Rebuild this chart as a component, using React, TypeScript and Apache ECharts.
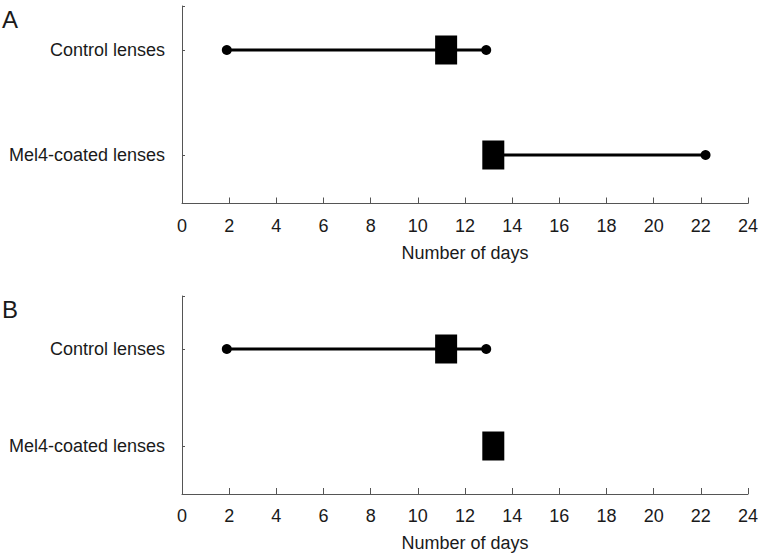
import React, { useEffect, useRef } from "react";
import * as echarts from "echarts";

// Row labels (y = 1 for Mel4, y = 2 for Control)
const categories = ["Mel4-coated lenses", "Control lenses"];
const rowValues = [1, 2];

// Panel A: range (min, max) and median in days
const panelAMin = [13.0, 1.9];
const panelAMax = [22.2, 12.9];
const panelAMedian = [13.2, 11.2];

// Panel B
const panelBMin = [13.2, 1.9];
const panelBMax = [13.2, 12.9];
const panelBMedian = [13.2, 11.2];

const xTicks = [0, 24, 2]; // min, max, interval
const panelLabels = ["A", "B"];
const xAxisTitle = "Number of days";

const FONT = "'Liberation Sans', Arial, sans-serif";
const TEXT = "#1a1a1a";
const AXIS = "#555";

export default function App() {
  const ref = useRef<HTMLDivElement>(null);
  useEffect(() => {
    if (!ref.current) return;
    const chart = echarts.init(ref.current, undefined, { renderer: "svg" });

    const panels = [
      { min: panelAMin, max: panelAMax, med: panelAMedian, top: 6, height: 197.5, yMin: 0.5381, yMax: 2.419 },
      { min: panelBMin, max: panelBMax, med: panelBMedian, top: 296, height: 198, yMin: 0.5052, yMax: 2.5464 },
    ];

    const grid = panels.map((p) => ({ left: 182, right: 14, top: p.top, height: p.height, containLabel: false }));

    const xAxis = panels.map((_, i) => ({
      type: "value",
      gridIndex: i,
      min: xTicks[0],
      max: xTicks[1],
      interval: xTicks[2],
      name: xAxisTitle,
      nameLocation: "middle",
      nameGap: 40,
      nameTextStyle: { fontFamily: FONT, fontSize: 18, color: TEXT },
      axisLine: { show: true, onZero: false, lineStyle: { color: AXIS, width: 1 } },
      axisTick: { show: true, inside: true, length: 6, lineStyle: { color: AXIS } },
      axisLabel: { show: true, margin: 13, fontFamily: FONT, fontSize: 18, color: TEXT, showMinLabel: true, showMaxLabel: true },
      splitLine: { show: false },
    }));

    const yAxis = panels.map((p, i) => ({
      type: "value",
      gridIndex: i,
      min: p.yMin,
      max: p.yMax,
      axisLine: { show: true, onZero: false, lineStyle: { color: AXIS, width: 1 } },
      axisTick: { show: true, inside: true, length: 3, customValues: [...rowValues, p.yMax], lineStyle: { color: AXIS } },
      axisLabel: {
        show: true,
        margin: 17,
        customValues: rowValues,
        fontFamily: FONT,
        fontSize: 18,
        color: TEXT,
        formatter: (v: number) => categories[rowValues.indexOf(Math.round(v))] ?? "",
      },
      splitLine: { show: false },
    }));

    const series: any[] = [];
    panels.forEach((p, pi) => {
      rowValues.forEach((y, ri) => {
        series.push({
          type: "line",
          xAxisIndex: pi,
          yAxisIndex: pi,
          data: [
            [p.min[ri], y],
            [p.max[ri], y],
          ],
          symbol: "circle",
          symbolSize: 10,
          showSymbol: true,
          lineStyle: { color: "#000", width: 3, opacity: 1 },
          itemStyle: { color: "#000", opacity: 1 },
          z: 2,
        });
      });
      series.push({
        type: "scatter",
        xAxisIndex: pi,
        yAxisIndex: pi,
        data: p.med.map((m, ri) => [m, rowValues[ri]]),
        symbol: "rect",
        symbolSize: [22, 29],
        itemStyle: { color: "#000", opacity: 1 },
        z: 5,
      });
    });

    chart.setOption({
      animation: false,
      backgroundColor: "#fff",
      grid,
      xAxis,
      yAxis,
      series,
      graphic: [
        { type: "text", left: 2, top: 7, style: { text: panelLabels[0], fontFamily: FONT, fontSize: 24, fill: TEXT } },
        { type: "text", left: 2, top: 297, style: { text: panelLabels[1], fontFamily: FONT, fontSize: 24, fill: TEXT } },
      ],
    });
    return () => chart.dispose();
  }, []);
  return <div ref={ref} style={{ position: "fixed", left: 0, top: 0, width: 762, height: 557 }} />;
}
